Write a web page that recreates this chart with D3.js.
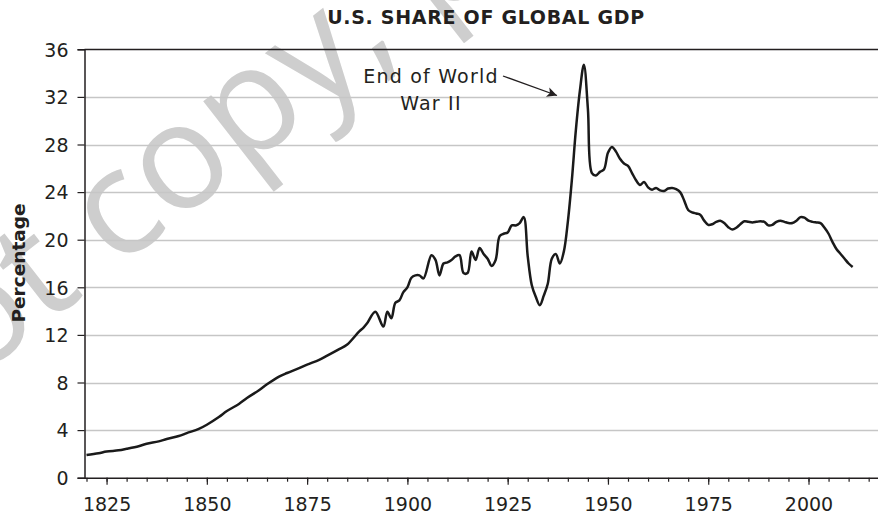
<!DOCTYPE html>
<html>
<head>
<meta charset="utf-8">
<script src="https://cdn.jsdelivr.net/npm/d3@7"></script>
<style>
  html, body { margin: 0; padding: 0; background: #fff; }
  svg { display: block; }
</style>
</head>
<body>
<svg id="chart" width="878" height="514"></svg>
<script>
// ---- data ----
const years = [1820,1823,1825,1828,1830,1833,1835,1838,1840,1843,1845,1848,1850,1853,1855,1858,1860,1863,1865,1868,1870,1873,1875,1878,1880,1883,1885,1888,1889,1890,1892,1894,1895,1896,1897,1898,1899,1900,1901,1902,1903,1904,1906,1907,1908,1909,1910,1911,1912,1913,1914,1915,1916,1917,1918,1919,1920,1921,1922,1923,1924,1925,1926,1927,1928,1929,1930,1931,1932,1933,1934,1935,1936,1937,1938,1939,1940,1941,1942,1943,1944,1945,1946,1947,1948,1949,1950,1951,1952,1953,1954,1955,1956,1957,1958,1959,1960,1961,1962,1963,1964,1965,1966,1967,1968,1969,1970,1971,1972,1973,1974,1975,1976,1977,1978,1979,1980,1981,1982,1983,1984,1985,1986,1987,1988,1989,1990,1991,1992,1993,1994,1995,1996,1997,1998,1999,2000,2001,2002,2003,2004,2005,2006,2007,2008,2009,2010,2011];
const usShare = [1.9,2.05,2.2,2.3,2.43,2.65,2.85,3.05,3.25,3.5,3.75,4.1,4.45,5.1,5.6,6.2,6.7,7.35,7.85,8.5,8.8,9.2,9.5,9.9,10.25,10.8,11.2,12.3,12.6,13.0,13.95,12.7,13.95,13.4,14.7,14.9,15.6,16.0,16.8,17.0,17.0,16.75,18.7,18.3,17.0,18.0,18.1,18.3,18.6,18.7,17.2,17.2,19.0,18.3,19.3,18.8,18.4,17.8,18.3,20.3,20.5,20.6,21.2,21.2,21.4,21.9,18.6,16.2,15.2,14.5,15.3,16.3,18.4,18.8,18.0,19.0,21.5,25.0,29.2,32.5,34.7,31.0,25.6,25.4,25.7,25.9,27.3,27.8,27.4,26.8,26.4,26.2,25.6,25.0,24.6,24.85,24.4,24.2,24.35,24.15,24.1,24.3,24.35,24.25,24.0,23.3,22.5,22.3,22.2,22.1,21.6,21.25,21.3,21.5,21.6,21.4,21.05,20.85,21.0,21.3,21.55,21.5,21.45,21.5,21.55,21.5,21.2,21.25,21.5,21.6,21.5,21.4,21.4,21.6,21.9,21.85,21.6,21.5,21.45,21.4,21.0,20.5,19.8,19.2,18.8,18.4,18.0,17.7];
const yTicks = [0,4,8,12,16,20,24,28,32,36];
const xMajorTicks = [1825,1850,1875,1900,1925,1950,1975,2000];
const xMinorTicks = d3.range(1820, 2016, 5);
const titleText = "U.S. SHARE OF GLOBAL GDP";
const yLabel = "Percentage";
const annotation = ["End of World", "War II"];
const watermark = ["Do not\u00A0", "copy, post, or distribute"];

// ---- layout ----
const svg = d3.select("#chart");
const x = d3.scaleLinear().domain([1819.5, 2017.5]).range([84.5, 878.7]);
const y = d3.scaleLinear().domain([0, 36]).range([477.7, 49.3]);
const fontLabel = "'DejaVu Sans', sans-serif";
const ink = "#231f20";

// watermark
const wm = svg.append("g").attr("transform", "translate(116,270) rotate(-38)")
  .attr("fill", "#cecece").style("font-family", "'Open Sans', sans-serif").style("font-size", "148px");
wm.append("text").attr("text-anchor", "end").text(watermark[0]);
wm.append("text").attr("text-anchor", "start").text(watermark[1]);

// gridlines
svg.append("g").selectAll("line").data(yTicks.filter(d => d > 0)).join("line")
  .attr("x1", 84.5).attr("x2", 878)
  .attr("y1", d => Math.round(y(d)) + 0.5).attr("y2", d => Math.round(y(d)) + 0.5)
  .attr("stroke", d => d === 36 ? ink : "#c6c6c6")
  .attr("stroke-width", d => d === 36 ? 1.5 : 1.3);

// y axis
const yAxis = svg.append("g").attr("transform", "translate(84.5,0)")
  .call(d3.axisLeft(y).tickValues(yTicks).tickSize(7).tickPadding(9).tickFormat(d3.format("d")));
yAxis.select(".domain").attr("stroke", ink).attr("stroke-width", 1.5);
yAxis.selectAll(".tick line").attr("stroke", ink).attr("stroke-width", 1.2);
yAxis.selectAll("text").attr("fill", ink).style("font-family", fontLabel).style("font-size", "19px").attr("dy", "0.36em");

// x axis minor ticks
const xMinor = svg.append("g").attr("transform", "translate(0,477.7)")
  .call(d3.axisBottom(x).tickValues(xMinorTicks).tickSize(4).tickFormat(""));
xMinor.select(".domain").remove();
xMinor.selectAll(".tick line").attr("stroke", ink).attr("stroke-width", 1.2);

// x axis major
const xAxis = svg.append("g").attr("transform", "translate(0,477.7)")
  .call(d3.axisBottom(x).tickValues(xMajorTicks).tickSize(7).tickPadding(13).tickSizeOuter(0).tickFormat(d3.format("d")));
xAxis.select(".domain").attr("stroke", ink).attr("stroke-width", 1.5);
xAxis.selectAll(".tick line").attr("stroke", ink).attr("stroke-width", 1.2);
xAxis.selectAll("text").attr("fill", ink).style("font-family", fontLabel).style("font-size", "19px");

// line
const line = d3.line().x((d, i) => x(years[i])).y(d => y(d)).curve(d3.curveCatmullRom.alpha(0.5));
svg.append("path").datum(usShare).attr("d", line)
  .attr("fill", "none").attr("stroke", "#1a1a1a").attr("stroke-width", 2.5).attr("stroke-linejoin", "round");

// title
svg.append("text").attr("x", 486).attr("y", 24).attr("text-anchor", "middle")
  .attr("fill", ink).style("font-family", fontLabel).style("font-weight", "bold").style("font-size", "19px")
  .style("letter-spacing", "0.7px")
  .text(titleText);

// y label
svg.append("text").attr("transform", "translate(25,263) rotate(-90)").attr("text-anchor", "middle")
  .attr("fill", ink).style("font-family", fontLabel).style("font-weight", "bold").style("font-size", "18.5px")
  .text(yLabel);

// annotation
const ann = svg.append("text").attr("text-anchor", "middle").attr("fill", ink)
  .style("font-family", fontLabel).style("font-size", "19px").style("letter-spacing", "1.2px");
ann.append("tspan").attr("x", 431).attr("y", 83).text(annotation[0]);
ann.append("tspan").attr("x", 431).attr("y", 110).text(annotation[1]);

svg.append("defs").append("marker").attr("id", "arrow").attr("viewBox", "0 0 10 10")
  .attr("refX", 10).attr("refY", 5).attr("markerWidth", 14).attr("markerHeight", 10)
  .attr("markerUnits", "userSpaceOnUse").attr("orient", "auto")
  .append("path").attr("d", "M0,0 L10,5 L0,10 L2.5,5 Z").attr("fill", ink);
svg.append("line").attr("x1", 503).attr("y1", 76).attr("x2", 557).attr("y2", 95.5)
  .attr("stroke", ink).attr("stroke-width", 1.3).attr("marker-end", "url(#arrow)");
</script>
</body>
</html>
